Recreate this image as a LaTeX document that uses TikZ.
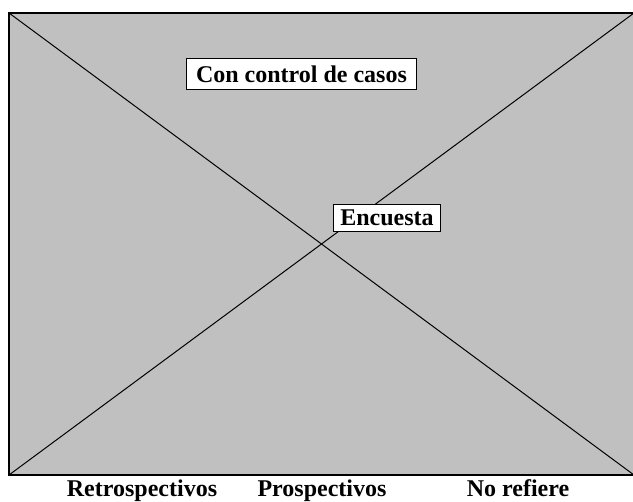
\documentclass[tikz,border=0pt]{standalone}
\usepackage{fontspec}
\setmainfont{Liberation Serif}
\definecolor{panelgray}{RGB}{192,192,192}
\tikzset{
  labelbox/.style={draw=black, line width=1.8pt, fill=white, inner xsep=0pt, inner ysep=0pt, font=\fontsize{24}{27}\selectfont\bfseries},
  axislabel/.style={anchor=base, font=\fontsize{24}{27}\selectfont\bfseries}
}
\begin{document}
\begin{tikzpicture}[x=1pt,y=1pt,yscale=-1,xscale=1]
\useasboundingbox (0,0) rectangle (633,502);
%Panel
\coordinate (tl) at (9,13);
\coordinate (tr) at (634,13);
\coordinate (bl) at (9,475);
\coordinate (br) at (634,475);
\draw [fill=panelgray, line width=1.6pt] (tl) rectangle (br);
%Diagonals
\draw [line width=1pt] (tl) -- (br);
\draw [line width=1pt] (bl) -- (tr);
%Boxes
\node [labelbox, minimum width=230pt, minimum height=31pt] (casos) at (301.5,74) {Con control de casos};
\node [labelbox, minimum width=107pt, minimum height=27pt] (encuesta) at (387,218) {Encuesta};
%Bottom labels
\node [axislabel] (retro) at (142,497) {Retrospectivos};
\node [axislabel] (prosp) at (322,497) {Prospectivos};
\node [axislabel] (norefiere) at (518,497) {No refiere};
\end{tikzpicture}
\end{document}
